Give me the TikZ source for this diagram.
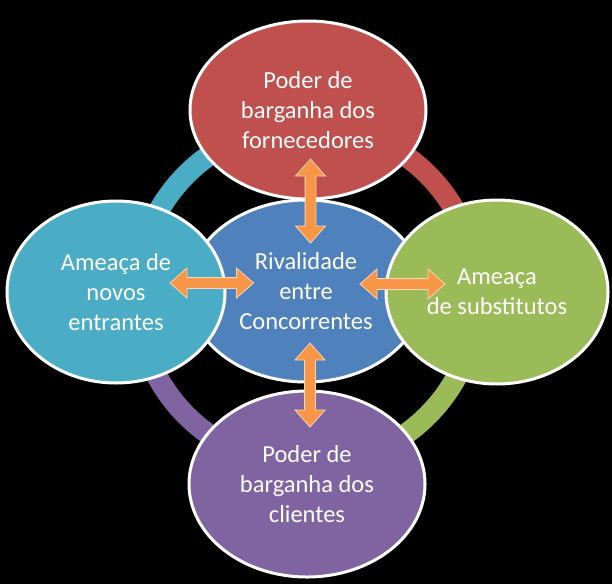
\documentclass[tikz,border=0pt]{standalone}
\usepackage{fontspec}
\setmainfont{Carlito}
\usetikzlibrary{shapes.geometric,calc}
\definecolor{cred}{HTML}{C0504D}
\definecolor{cblue}{HTML}{4F81BD}
\definecolor{cgreen}{HTML}{9BBB59}
\definecolor{cpurple}{HTML}{8064A2}
\definecolor{cteal}{HTML}{4BACC6}
\definecolor{corange}{HTML}{F79646}
\definecolor{cedge}{HTML}{FCD5B4}
\newcommand{\dblarrow}[2]{%
  \draw[blockarrow] (#1)
    -- ($(#1)!17pt!(#2)!15pt!90:(#2)$)
    -- ($(#1)!17pt!(#2)!5.4pt!90:(#2)$)
    -- ($(#2)!17pt!(#1)!5.4pt!-90:(#1)$)
    -- ($(#2)!17pt!(#1)!15pt!-90:(#1)$)
    -- (#2)
    -- ($(#2)!17pt!(#1)!15pt!90:(#1)$)
    -- ($(#2)!17pt!(#1)!5.4pt!90:(#1)$)
    -- ($(#1)!17pt!(#2)!5.4pt!-90:(#2)$)
    -- ($(#1)!17pt!(#2)!15pt!-90:(#2)$)
    -- cycle;}
\begin{document}
\begin{tikzpicture}[x=1pt,y=-1pt,
  bubble/.style={ellipse, draw=white, line width=3pt, inner sep=0pt,
    text=white, align=center, font=\fontsize{24.5}{30}\selectfont},
  ringarc/.style={line width=21pt, line cap=butt},
  blockarrow/.style={fill=corange, draw=cedge, line width=0.8pt, line join=miter}]
\useasboundingbox (0,0) rectangle (612,584);
\fill[black] (0,0) rectangle (612,584);
\coordinate (c) at (307,295);
% ring
\draw[ringarc, cred]    ([shift={(0:170.5pt)}]c)   arc[start angle=0,   end angle=90,  radius=170.5pt];
\draw[ringarc, cteal]   ([shift={(90:170.5pt)}]c)  arc[start angle=90,  end angle=180, radius=170.5pt];
\draw[ringarc, cpurple] ([shift={(180:170.5pt)}]c) arc[start angle=180, end angle=270, radius=170.5pt];
\draw[ringarc, cgreen]  ([shift={(270:170.5pt)}]c) arc[start angle=270, end angle=360, radius=170.5pt];
% bubbles
\node[bubble, fill=cblue, minimum width=236pt, minimum height=182pt] (center) at (306,291) {Rivalidade\\entre\\Concorrentes};
\node[bubble, fill=cteal, minimum width=218pt, minimum height=182pt] (left) at (116,292) {Ameaça de\\novos\\entrantes};
\node[bubble, fill=cgreen, minimum width=222pt, minimum height=184pt] (right) at (497,292) {Ameaça\\de substitutos};
\node[bubble, fill=cred, minimum width=236pt, minimum height=178pt] (top) at (308,110) {Poder de\\barganha dos\\fornecedores};
\node[bubble, fill=cpurple, minimum width=236pt, minimum height=186pt] (bottom) at (307,484) {Poder de\\barganha dos\\clientes};
% arrows
\coordinate (t1) at (310.5,159);
\coordinate (t2) at (310.5,243);
\coordinate (b1) at (310,343);
\coordinate (b2) at (310,427);
\coordinate (l1) at (170,283);
\coordinate (l2) at (253.5,283);
\coordinate (r1) at (360,284);
\coordinate (r2) at (445,284);
\dblarrow{t1}{t2}
\dblarrow{b1}{b2}
\dblarrow{l1}{l2}
\dblarrow{r1}{r2}
\end{tikzpicture}
\end{document}
